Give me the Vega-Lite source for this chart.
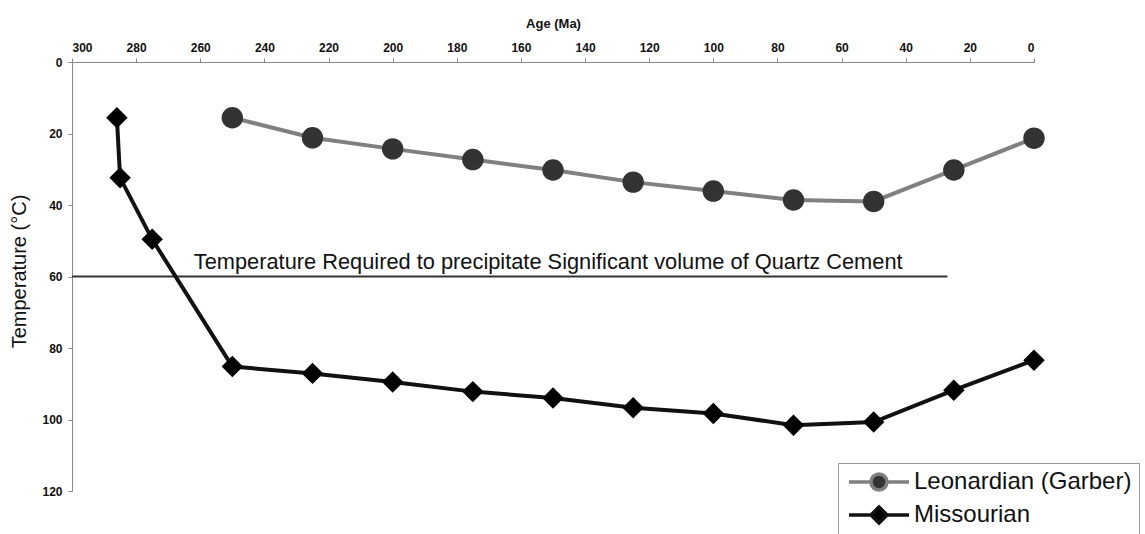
{
  "$schema": "https://vega.github.io/schema/vega-lite/v6.json",
  "width": 962,
  "height": 429,
  "autosize": "none",
  "padding": {"left": 72, "top": 62, "right": 111, "bottom": 43},
  "background": "white",
  "config": {
    "view": {"stroke": null},
    "font": "Arial",
    "axis": {"grid": false, "domainColor": "#888", "tickColor": "#888", "tickSize": 4, "labelFont": "Arial", "labelFontWeight": "bold", "labelFontSize": 12, "labelColor": "#111", "titleFont": "Arial", "titleColor": "#111"}
  },
  "datasets": {
    "series": [
      {"series": "Leonardian (Garber)", "age": 250, "temp": 15.6},
      {"series": "Leonardian (Garber)", "age": 225, "temp": 21.2},
      {"series": "Leonardian (Garber)", "age": 200, "temp": 24.3},
      {"series": "Leonardian (Garber)", "age": 175, "temp": 27.3},
      {"series": "Leonardian (Garber)", "age": 150, "temp": 30.2},
      {"series": "Leonardian (Garber)", "age": 125, "temp": 33.6},
      {"series": "Leonardian (Garber)", "age": 100, "temp": 36.1},
      {"series": "Leonardian (Garber)", "age": 75, "temp": 38.6},
      {"series": "Leonardian (Garber)", "age": 50, "temp": 39.0},
      {"series": "Leonardian (Garber)", "age": 25, "temp": 30.2},
      {"series": "Leonardian (Garber)", "age": 0, "temp": 21.3},
      {"series": "Missourian", "age": 286, "temp": 15.6},
      {"series": "Missourian", "age": 285, "temp": 32.4},
      {"series": "Missourian", "age": 275, "temp": 49.6},
      {"series": "Missourian", "age": 250, "temp": 85.2},
      {"series": "Missourian", "age": 225, "temp": 87.1},
      {"series": "Missourian", "age": 200, "temp": 89.5},
      {"series": "Missourian", "age": 175, "temp": 92.2},
      {"series": "Missourian", "age": 150, "temp": 94.0},
      {"series": "Missourian", "age": 125, "temp": 96.7},
      {"series": "Missourian", "age": 100, "temp": 98.3},
      {"series": "Missourian", "age": 75, "temp": 101.6},
      {"series": "Missourian", "age": 50, "temp": 100.7},
      {"series": "Missourian", "age": 25, "temp": 91.8},
      {"series": "Missourian", "age": 0, "temp": 83.4}
    ],
    "threshold": [
      {"age_start": 300, "age_end": 27, "temp": 60, "label": "Temperature Required to precipitate Significant volume of Quartz Cement", "label_age": 151.5, "label_temp": 58}
    ]
  },
  "encoding": {},
  "layer": [
    {
      "data": {"name": "threshold"},
      "mark": {"type": "rule", "color": "#333", "strokeWidth": 2},
      "encoding": {
        "x": {"field": "age_start", "type": "quantitative", "scale": {"domain": [0, 300], "reverse": true, "nice": false, "zero": false},
          "axis": {"orient": "top", "values": [300, 280, 260, 240, 220, 200, 180, 160, 140, 120, 100, 80, 60, 40, 20, 0], "title": "Age (Ma)", "titleFontSize": 13, "titleFontWeight": "bold", "titlePadding": 11, "labelPadding": 4}},
        "x2": {"field": "age_end"},
        "y": {"field": "temp", "type": "quantitative", "scale": {"domain": [0, 120], "reverse": true, "nice": false},
          "axis": {"values": [0, 20, 40, 60, 80, 100, 120], "title": "Temperature (°C)", "titleFontSize": 20, "titleFontWeight": "normal", "titleX": -53, "titleY": 209, "titleAngle": -90, "titleAlign": "center", "titleBaseline": "middle", "labelPadding": 6}}
      }
    },
    {
      "data": {"name": "threshold"},
      "mark": {"type": "text", "font": "Arial", "fontSize": 21.8, "align": "center", "baseline": "alphabetic", "color": "#111"},
      "encoding": {
        "x": {"field": "label_age", "type": "quantitative"},
        "y": {"field": "label_temp", "type": "quantitative"},
        "text": {"field": "label"}
      }
    },
    {
      "data": {"name": "series"},
      "mark": {"type": "line", "strokeWidth": 4},
      "encoding": {
        "x": {"field": "age", "type": "quantitative"},
        "y": {"field": "temp", "type": "quantitative"},
        "stroke": {"field": "series", "type": "nominal", "scale": {"domain": ["Leonardian (Garber)", "Missourian"], "range": ["#808080", "#111111"]},
          "legend": {"title": null, "orient": "none", "legendX": 766, "legendY": 401, "symbolType": "stroke", "symbolSize": 400, "symbolStrokeWidth": 3.5, "symbolOffset": 22, "labelFont": "Arial", "labelFontSize": 24, "labelLimit": 0, "labelColor": "#111", "labelOffset": 23, "rowPadding": 3, "padding": 7, "strokeColor": "#999", "fillColor": "white",
            "encode": {"symbols": {"update": {
              "shape": {"signal": "datum.value === 'Missourian' ? 'M-3,0H-0.8M0.8,0H3M-0.8,0L0,-0.8L0.8,0L0,0.8Z' : 'M-3,0H-0.8M0.8,0H3M0.8,0A0.8,0.8,0,1,1,-0.8,0A0.8,0.8,0,1,1,0.8,0Z'"},
              "fill": {"signal": "datum.value === 'Missourian' ? '#000000' : '#333333'"},
              "fillOpacity": {"value": 1}
            }}}}}
      }
    },
    {
      "data": {"name": "series"},
      "transform": [{"filter": "datum.series === 'Leonardian (Garber)'"}],
      "mark": {"type": "point", "shape": "circle", "filled": true, "opacity": 1, "size": 460, "color": "#333333"},
      "encoding": {
        "x": {"field": "age", "type": "quantitative"},
        "y": {"field": "temp", "type": "quantitative"}
      }
    },
    {
      "data": {"name": "series"},
      "transform": [{"filter": "datum.series === 'Missourian'"}],
      "mark": {"type": "point", "shape": "diamond", "filled": true, "opacity": 1, "size": 460, "color": "#000000"},
      "encoding": {
        "x": {"field": "age", "type": "quantitative"},
        "y": {"field": "temp", "type": "quantitative"}
      }
    }
  ]
}
